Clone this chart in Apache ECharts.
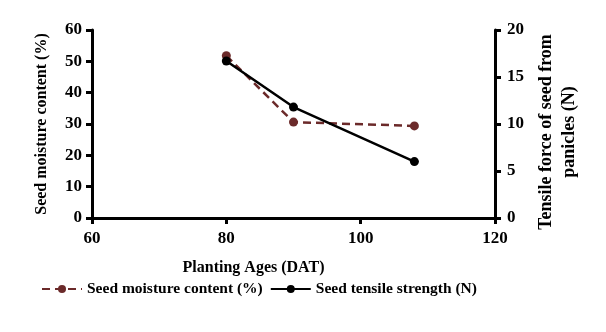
<!DOCTYPE html>
<html>
<head>
<meta charset="utf-8">
<script src="https://cdn.jsdelivr.net/npm/echarts@6/dist/echarts.min.js"></script>
<style>
  html, body { margin: 0; padding: 0; background: #fff; }
  #chart { width: 606px; height: 332px; }
</style>
</head>
<body>
<div id="chart"></div>
<script>
const ages = [80, 90, 108];
const moisture = [51.8, 30.6, 29.4];
const tensile = [16.7, 11.8, 6.0];

const font = 'Liberation Serif';
const maroon = '#6b2a2a';

const chart = echarts.init(document.getElementById('chart'));

const axisCommon = {
    axisLine: { lineStyle: { color: '#000', width: 3 } },
    axisTick: { show: true, length: 6, lineStyle: { color: '#000', width: 3 } },
    axisLabel: { color: '#000', fontFamily: font, fontWeight: 'bold', fontSize: 17 },
    splitLine: { show: false },
    nameTextStyle: { color: '#000', fontFamily: font, fontWeight: 'bold', fontSize: 16 }
};

chart.setOption({
    animation: false,
    grid: { left: 92, right: 111, top: 30, bottom: 114 },
    legend: {
        top: 276,
        left: 36,
        itemGap: 7,
        itemWidth: 40,
        itemHeight: 10,
        textStyle: { color: '#000', fontFamily: font, fontWeight: 'bold', fontSize: 15.5 },
        data: ['Seed moisture content (%)', 'Seed tensile strength (N)']
    },
    xAxis: Object.assign({}, axisCommon, {
        type: 'value',
        min: 60,
        max: 120,
        interval: 20,
        name: 'Planting Ages (DAT)',
        nameLocation: 'middle',
        nameGap: 42,
        nameTextStyle: Object.assign({}, axisCommon.nameTextStyle, { padding: [0, 80, 0, 0] }),
        axisLabel: Object.assign({}, axisCommon.axisLabel, { margin: 12 })
    }),
    yAxis: [
        Object.assign({}, axisCommon, {
            type: 'value',
            min: 0,
            max: 60,
            interval: 10,
            name: 'Seed moisture content (%)',
            nameLocation: 'middle',
            nameGap: 42,
            axisLabel: Object.assign({}, axisCommon.axisLabel, { margin: 10 })
        }),
        Object.assign({}, axisCommon, {
            type: 'value',
            position: 'right',
            min: 0,
            max: 20,
            interval: 5,
            name: 'Tensile force of seed from\npanicles (N)',
            nameLocation: 'middle',
            nameGap: 38,
            nameTextStyle: Object.assign({}, axisCommon.nameTextStyle, { fontSize: 18, lineHeight: 23, padding: [0, 16, 0, 0] }),
            axisLabel: Object.assign({}, axisCommon.axisLabel, { margin: 12 })
        })
    ],
    series: [
        {
            name: 'Seed moisture content (%)',
            type: 'line',
            yAxisIndex: 0,
            data: ages.map((a, i) => [a, moisture[i]]),
            symbol: 'circle',
            symbolSize: 9,
            itemStyle: { color: maroon },
            lineStyle: { color: maroon, width: 2.5, type: [8, 5] }
        },
        {
            name: 'Seed tensile strength (N)',
            type: 'line',
            yAxisIndex: 1,
            data: ages.map((a, i) => [a, tensile[i]]),
            symbol: 'circle',
            symbolSize: 9,
            itemStyle: { color: '#000' },
            lineStyle: { color: '#000', width: 2.5 }
        }
    ]
});
</script>
</body>
</html>
